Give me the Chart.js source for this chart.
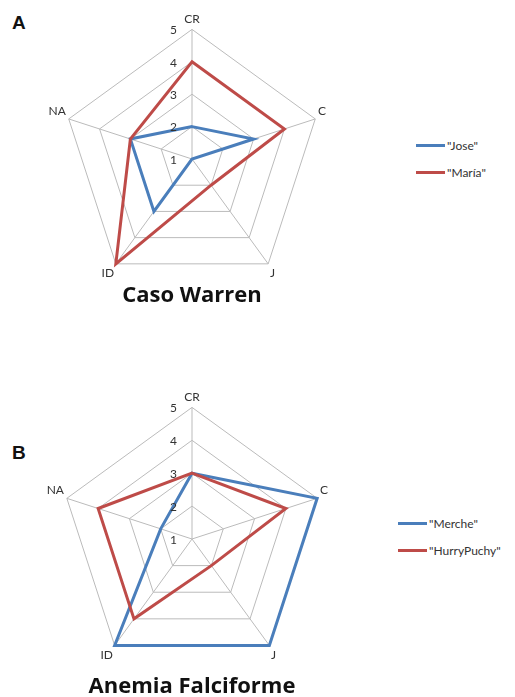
<!DOCTYPE html>
<html>
<head>
<meta charset="utf-8">
<title>Radar charts</title>
<script src="https://cdn.jsdelivr.net/npm/chart.js@4.4.0/dist/chart.umd.min.js"></script>
<style>
  body { margin: 0; width: 515px; height: 697px; background: #fff; position: relative; overflow: hidden; font-family: Lato, "Open Sans", sans-serif; }
  canvas { position: absolute; }
  #chartA { left: 22px; top: 4px; }
  #chartB { left: 22px; top: 382px; }
  .letter { position: absolute; left: 12px; font: bold 19px "Liberation Sans", Arial, sans-serif; line-height: 19px; color: #111; }
  .title { position: absolute; left: 0; width: 384px; text-align: center; font: bold 22px "Open Sans", sans-serif; line-height: 22px; color: #111; }
  .legend { position: absolute; font-size: 12px; color: #333; }
  .legend-item { display: flex; align-items: center; height: 14px; margin-bottom: 13px; }
  .legend-line { width: 29px; height: 3px; margin-right: 2px; }
</style>
</head>
<body>

<div class="letter" style="top:13px">A</div>
<div class="letter" style="top:443px">B</div>

<canvas id="chartA" width="340" height="294"></canvas>
<canvas id="chartB" width="340" height="298"></canvas>

<div class="title" style="top:282px">Caso Warren</div>
<div class="title" style="top:673px">Anemia Falciforme</div>

<div class="legend" id="legendA" style="left:416px; top:138px"></div>
<div class="legend" id="legendB" style="left:398px; top:516px"></div>

<script>
// axes (clockwise from the top)
const categories = ['CR', 'C', 'J', 'ID', 'NA'];
const tickValues = [1, 2, 3, 4, 5];

// Caso Warren
const joseValues = [2, 3, 1, 3, 3];
const mariaValues = [4, 4, 2, 5, 3];

// Anemia Falciforme
const mercheValues = [3, 5, 5, 5, 2];
const hurryValues = [3, 4, 2, 4, 4];

const blue = '#4a7ebb';
const red = '#be4b48';

// excel style value labels, left of the vertical axis
const tickLabelPlugin = {
  id: 'tickLabels',
  afterDraw(chart) {
    const r = chart.scales.r;
    const ctx = chart.ctx;
    ctx.save();
    ctx.font = '12px Lato';
    ctx.fillStyle = '#333';
    ctx.textAlign = 'right';
    ctx.textBaseline = 'middle';
    tickValues.forEach(v => {
      const y = r.yCenter - r.getDistanceFromCenterForValue(v);
      ctx.fillText(String(v), r.xCenter - 15, y + 1);
    });
    ctx.restore();
  }
};

function makeRadar(id, series) {
  const ctx = document.getElementById(id).getContext('2d');
  return new Chart(ctx, {
    type: 'radar',
    data: {
      labels: categories,
      datasets: series.map((s, i) => ({
        label: s.label,
        data: s.data,
        borderColor: s.color,
        backgroundColor: s.color,
        borderWidth: 3,
        fill: false,
        pointRadius: 0,
        order: series.length - i
      }))
    },
    options: {
      responsive: false,
      animation: false,
      plugins: {
        legend: { display: false },
        tooltip: { enabled: false }
      },
      scales: {
        r: {
          min: 1,
          max: 5,
          ticks: { display: false, stepSize: 1 },
          grid: { color: '#bbbbbb', lineWidth: 1 },
          angleLines: { color: '#bbbbbb', lineWidth: 1 },
          pointLabels: {
            font: { size: 12, family: 'Lato' },
            color: '#333',
            padding: 3
          }
        }
      }
    },
    plugins: [tickLabelPlugin]
  });
}

function makeLegend(id, series) {
  const box = document.getElementById(id);
  series.forEach(s => {
    box.innerHTML += '<div class="legend-item"><span class="legend-line" style="background:' + s.color + '"></span><span>"' + s.label + '"</span></div>';
  });
}

const seriesA = [
  { label: 'Jose', data: joseValues, color: blue },
  { label: 'María', data: mariaValues, color: red }
];
const seriesB = [
  { label: 'Merche', data: mercheValues, color: blue },
  { label: 'HurryPuchy', data: hurryValues, color: red }
];

makeRadar('chartA', seriesA);
makeRadar('chartB', seriesB);
makeLegend('legendA', seriesA);
makeLegend('legendB', seriesB);
</script>
</body>
</html>
